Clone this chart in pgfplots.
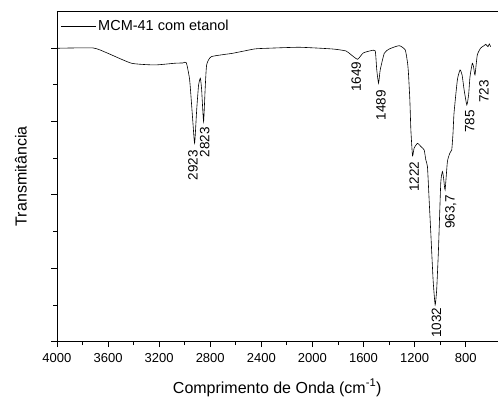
\documentclass[border=0pt]{standalone}
\usepackage{pgfplots}
\pgfplotsset{compat=1.18}
\usepackage{fontspec}
\setmainfont{Liberation Sans}
\begin{document}
\begin{tikzpicture}
\begin{axis}[
  scale only axis,
  width=441pt, height=331pt,
  x dir=reverse,
  xmin=550, xmax=4000,
  ymin=0, ymax=331,
  axis x line*=bottom, axis y line*=left,
  axis line style={-, line width=0.8pt},
  clip mode=individual,
  xtick={800,1200,1600,2000,2400,2800,3200,3600,4000},
  minor x tick num=1,
  ytick={0,73.5,147,220.5,294},
  minor ytick={36.75,110.25,183.75,257.25},
  yticklabels={},
  tick align=outside,
  major tick length=5.5pt, minor tick length=3.5pt,
  every tick/.style={black, line width=0.8pt},
  /pgf/number format/assume math mode=true,
  /pgf/number format/set thousands separator={},
  ticklabel style={font=\fontsize{13}{15}\selectfont},
  xticklabel style={yshift=-3pt},
  xlabel={Comprimento de Onda (cm\textsuperscript{-1})},
  ylabel={Transmitância},
  every axis x label/.style={at={(rel axis cs:0.5,0)}, yshift=-46pt, anchor=center,
    font=\fontsize{16}{19}\selectfont},
  every axis y label/.style={at={(rel axis cs:0,0.5)}, xshift=-36pt, rotate=90, anchor=center,
    font=\fontsize{16}{19}\selectfont},
  legend style={draw=none, fill=none, font=\fontsize{14.5}{17}\selectfont,
    at={(rel axis cs:0.008,0.955)}, anchor=west, inner xsep=0pt, inner ysep=0pt},
  legend image code/.code={\draw[#1] (0pt,0pt) -- (35pt,0pt);},
]
\addplot[black, line width=0.6pt, smooth, tension=0.3] coordinates {
(4000,293.7) (3716,294) (3602,288.7) (3416,278.7) (3234,277) (3078,278.7)
(3013,279) (2987,279.3) (2961,262) (2937,222) (2922,198.7) (2906,232)
(2891,257) (2877,263.7) (2867,252) (2852,220.3) (2840,252) (2828,277)
(2791,285.3) (2623,288.7) (2453,293) (2352,293.7) (2102,294.7) (1844,293)
(1737,291) (1695,287) (1646,282.7) (1602,289) (1541,291.3) (1508,291)
(1496,272) (1482,258.7) (1469,272) (1437,288.7) (1398,293) (1320,296.3)
(1273,292) (1255,279) (1248,269) (1237,242) (1229,212) (1216,186)
(1203,194) (1177,198.5) (1148,195) (1125,192) (1112,182) (1099,175)
(1086,142) (1073,109) (1055,62) (1039,37) (1027,52) (1013,92)
(995,159) (982,170.3) (973,164) (961,152) (943,180.3) (924,188.7)
(909,192) (899,209) (891,229) (865,262) (844,272) (828,267)
(812,252) (791,237) (777,247) (766,265.3) (748,278.7) (738,275)
(727,267) (709,287) (682,294) (656,296.3) (643,297.7) (625,295.3)
(615,298) (604,295.3)
};
\addlegendentry{MCM-41 com etanol}
\draw[line width=0.8pt] (rel axis cs:0,1) -- (rel axis cs:1,1);
\begin{scope}[every node/.style={rotate=90, anchor=east, inner sep=0pt, font=\fontsize{13.5}{16}\selectfont}]
\node at (axis cs:2934,192) {2923};
\node at (axis cs:2842,215) {2823};
\node at (axis cs:1656,280.3) {1649};
\node at (axis cs:1463,252) {1489};
\node at (axis cs:1203,180.3) {1222};
\node at (axis cs:916,147) {963,7};
\node at (axis cs:1029,34) {1032};
\node at (axis cs:768,232) {785};
\node at (axis cs:656,262) {723};
\end{scope}
\end{axis}
\path (current axis.south west) ++(-57pt,-57pt);
\path (current axis.north east) ++(0pt,11pt);
\end{tikzpicture}
\end{document}
